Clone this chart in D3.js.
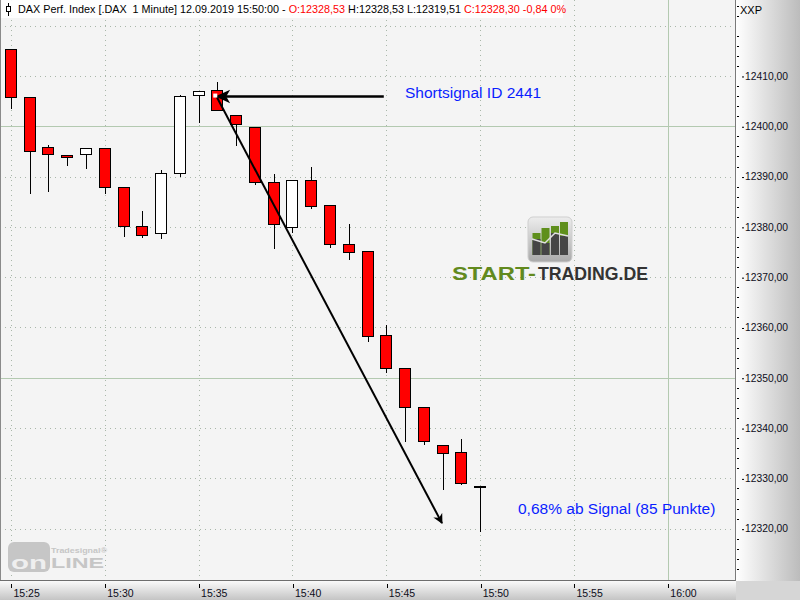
<!DOCTYPE html>
<html><head><meta charset="utf-8">
<script src="https://cdn.jsdelivr.net/npm/d3@7"></script>
<style>
body{margin:0;background:#fff;}
svg{display:block;font-family:"Liberation Sans",Arial,sans-serif;}
</style>
</head><body>
<svg id="c" width="800" height="600"></svg>
<script>
// ---- data ----
const times  = ["15:25","15:26","15:27","15:28","15:29","15:30","15:31","15:32","15:33","15:34","15:35","15:36","15:37","15:38","15:39","15:40","15:41","15:42","15:43","15:44","15:45","15:46","15:47","15:48","15:49","15:50"];
const opens  = [12415.3,12405.8,12395.8,12394.2,12394.4,12395.6,12387.9,12380.1,12378.7,12390.7,12406.2,12407.2,12402.2,12399.8,12388.9,12380.0,12389.3,12384.3,12376.5,12375.3,12358.6,12351.9,12344.1,12336.6,12335.2,12328.53];
const highs  = [12415.3,12405.8,12396.3,12394.2,12395.6,12395.6,12387.9,12383.2,12391.3,12406.2,12407.0,12408.8,12402.2,12399.8,12390.5,12389.3,12391.9,12384.3,12380.6,12375.3,12360.4,12351.9,12344.1,12336.6,12337.8,12328.53];
const lows   = [12403.7,12386.8,12387.2,12392.2,12391.8,12386.8,12378.1,12377.9,12377.7,12390.2,12400.9,12403.2,12396.3,12388.6,12375.7,12379.0,12383.8,12375.9,12373.6,12357.3,12351.1,12337.4,12336.8,12327.8,12328.8,12319.51];
const closes = [12405.8,12395.0,12394.4,12393.8,12395.6,12387.9,12380.1,12378.3,12390.7,12406.0,12407.0,12403.2,12400.4,12388.9,12380.5,12389.3,12384.1,12376.5,12375.1,12358.4,12351.9,12344.1,12337.4,12335.0,12329.0,12328.30];
const priceTicks = [12320,12330,12340,12350,12360,12370,12380,12390,12400,12410,12420];
const solidPrices = [12350,12400];
const timeTicks = ["15:25","15:30","15:35","15:40","15:45","15:50","15:55","16:00"];
const solidTimes = ["16:00"];
const headerParts = [
  {t:"DAX Perf. Index [.DAX  1 Minute] 12.09.2019 15:50:00 - ", c:"#000"},
  {t:"O:12328,53", c:"#ff0000"},
  {t:" H:12328,53 L:12319,51 ", c:"#000"},
  {t:"C:12328,30 -0,84 0%", c:"#ff0000"}
];
// annotations (time, price)
const sigPoint  = {t:"15:35:50", p:12406.0};
const sigFrom   = {t:"15:44:52", p:12406.0};
const targetPt  = {t:"15:47:58", p:12321.1};
const sigLabel  = "Shortsignal ID 2441";
const resLabel  = "0,68% ab Signal (85 Punkte)";

// ---- layout ----
const W = 800, H = 600, plotR = 736, plotB = 581;
const pT = d3.timeParse("%H:%M"), pTs = d3.timeParse("%H:%M:%S");
const x = d3.scaleTime().domain([pTs("15:24:25"), pTs("16:03:38")]).range([0, plotR]);
const y = d3.scaleLinear().domain([12309.6, 12425.1]).range([plotB, 0]);
const fmt = v => d3.format(".2f")(v).replace(".", ",");

const svg = d3.select("#c");
const defs = svg.append("defs");
const gR = defs.append("linearGradient").attr("id","gr").attr("x1",0).attr("x2",1).attr("y1",0).attr("y2",0);
gR.append("stop").attr("offset","0%").attr("stop-color","#ffffff");
gR.append("stop").attr("offset","100%").attr("stop-color","#bcbcbc");
const gB = defs.append("linearGradient").attr("id","gb").attr("x1",0).attr("x2",0).attr("y1",0).attr("y2",1);
gB.append("stop").attr("offset","0%").attr("stop-color","#fafafa");
gB.append("stop").attr("offset","100%").attr("stop-color","#c4c4c4");
const gI = defs.append("linearGradient").attr("id","gi").attr("x1",0).attr("x2",0).attr("y1",0).attr("y2",1);
gI.append("stop").attr("offset","0%").attr("stop-color","#ededed");
gI.append("stop").attr("offset","100%").attr("stop-color","#a9a9a9");
defs.append("marker").attr("id","ah").attr("viewBox","0 0 10 10").attr("refX",9).attr("refY",5)
  .attr("markerWidth",5).attr("markerHeight",5).attr("orient","auto").attr("markerUnits","strokeWidth")
  .append("path").attr("d","M0,0 L10,5 L0,10 L3,5 Z").attr("fill","#000");

// backgrounds
svg.append("rect").attr("x",0).attr("y",0).attr("width",plotR).attr("height",plotB).attr("fill","#f4f4f4");
svg.append("rect").attr("x",plotR).attr("y",0).attr("width",W-plotR).attr("height",plotB).attr("fill","url(#gr)");
svg.append("rect").attr("x",0).attr("y",plotB).attr("width",plotR).attr("height",H-plotB).attr("fill","url(#gb)");
svg.append("rect").attr("x",plotR).attr("y",plotB).attr("width",W-plotR).attr("height",H-plotB).attr("fill","#d6d6d6");

// grid
const grid = svg.append("g");
priceTicks.forEach(v => {
  const yy = Math.round(y(v)) + 0.5, solid = solidPrices.includes(v);
  grid.append("line").attr("x1",0).attr("x2",plotR).attr("y1",yy).attr("y2",yy)
    .attr("stroke", solid ? "#b3c9b0" : "#a9b7a9").attr("stroke-width",1)
    .attr("stroke-dasharray", solid ? null : "1,4");
});
timeTicks.forEach(t => {
  const xx = Math.round(x(pT(t))) + 0.5, solid = solidTimes.includes(t);
  grid.append("line").attr("x1",xx).attr("x2",xx).attr("y1",0).attr("y2",plotB)
    .attr("stroke", solid ? "#b3c9b0" : "#a9b7a9").attr("stroke-width",1)
    .attr("stroke-dasharray", solid ? null : "1,4");
});

// Tradesignal online logo
const tl = svg.append("g");
tl.append("rect").attr("x",8).attr("y",542).attr("width",42).attr("height",30).attr("rx",6).attr("fill","#c6c6c6");
tl.append("text").attr("x",11).attr("y",569).attr("font-size",18).attr("font-weight","bold")
  .attr("fill","#efefef").attr("textLength",36).attr("lengthAdjust","spacingAndGlyphs").text("on");
tl.append("text").attr("x",51).attr("y",568).attr("font-size",15).attr("font-weight","bold")
  .attr("fill","#c6c6c6").attr("textLength",53).attr("lengthAdjust","spacingAndGlyphs").text("LINE");
tl.append("text").attr("x",51).attr("y",552.5).attr("font-size",7.5).attr("font-weight","bold")
  .attr("fill","#c6c6c6").attr("textLength",56).attr("lengthAdjust","spacingAndGlyphs").text("Tradesignal®");

// START-TRADING logo
const lg = svg.append("g");
lg.append("rect").attr("x",528).attr("y",217).attr("width",44).attr("height",45).attr("rx",5)
  .attr("fill","url(#gi)").attr("stroke","#cfcfcf");
const bars = [[532.5,233,239],[541.5,228,243],[551,226,233],[560,222,236]];
bars.forEach(b => {
  lg.append("rect").attr("x",b[0]).attr("y",b[1]).attr("width",8).attr("height",255-b[1]).attr("fill","#5f8f1c");
  lg.append("rect").attr("x",b[0]).attr("y",b[2]).attr("width",8).attr("height",255-b[2]).attr("fill","#454545");
});
lg.append("polyline").attr("points","532,239 545,243 555,233 568,236").attr("fill","none").attr("stroke","#e0e0e0").attr("stroke-width",1.5);
lg.append("text").attr("x",452).attr("y",280).attr("font-size",18).attr("font-weight","bold")
  .attr("fill","#628a1e").attr("textLength",84).attr("lengthAdjust","spacingAndGlyphs").text("START-");
lg.append("text").attr("x",538).attr("y",280).attr("font-size",18).attr("font-weight","bold")
  .attr("fill","#333333").attr("textLength",110).attr("lengthAdjust","spacingAndGlyphs").text("TRADING.DE");

// candles
const data = times.map((t,i) => ({t:pT(t), o:opens[i], h:highs[i], l:lows[i], c:closes[i]}));
const cg = svg.append("g");
data.forEach(d => {
  const cx = Math.round(x(d.t));
  cg.append("line").attr("x1",cx+0.5).attr("x2",cx+0.5)
    .attr("y1",Math.round(y(d.h))).attr("y2",Math.round(y(d.l))+1)
    .attr("stroke","#000").attr("stroke-width",1);
  const top = Math.round(y(Math.max(d.o,d.c))), bot = Math.round(y(Math.min(d.o,d.c)));
  cg.append("rect").attr("x",cx-5.5).attr("y",top+0.5).attr("width",11).attr("height",Math.max(1,bot-top))
    .attr("fill", d.c < d.o ? "#ff0000" : "#ffffff").attr("stroke","#000").attr("stroke-width",1);
});

// annotations
const ax0 = x(pTs(sigFrom.t)), ay = Math.round(y(sigFrom.p)) + 0.5;
const sx = x(pTs(sigPoint.t)), sy = y(sigPoint.p);
svg.append("line").attr("x1",ax0).attr("x2",sx+8).attr("y1",ay).attr("y2",ay).attr("stroke","#000").attr("stroke-width",2.5);
svg.append("path").attr("d",`M${sx+3},${ay} L${sx+14},${ay-5} L${sx+11},${ay} L${sx+14},${ay+5} Z`)
  .attr("fill","#000").attr("stroke","#000").attr("stroke-width",1.5);
const tx = x(pTs(targetPt.t)), ty = y(targetPt.p);
svg.append("line").attr("x1",sx+2).attr("y1",sy).attr("x2",tx).attr("y2",ty)
  .attr("stroke","#000").attr("stroke-width",2).attr("marker-end","url(#ah)");
svg.append("rect").attr("x",sx-1).attr("y",sy-2.5).attr("width",4).attr("height",4).attr("fill","#fff");

svg.append("text").attr("x",405).attr("y",98).attr("font-size",15.5).attr("fill","#0a1eff").text(sigLabel);
svg.append("text").attr("x",518).attr("y",514).attr("font-size",15.5).attr("fill","#0a1eff").text(resLabel);

// header
svg.append("rect").attr("x",0).attr("y",0).attr("width",563).attr("height",18).attr("fill","#ffffff").attr("opacity",0.9);
const hi = svg.append("g");
hi.append("line").attr("x1",8.5).attr("x2",8.5).attr("y1",3).attr("y2",16).attr("stroke","#000");
hi.append("rect").attr("x",6.5).attr("y",6.5).attr("width",4).attr("height",5).attr("fill","#fff").attr("stroke","#000");
const ht = svg.append("text").attr("x",18).attr("y",13).attr("font-size",10.8).style("white-space","pre");
headerParts.forEach(p => ht.append("tspan").attr("fill",p.c).text(p.t));

// borders
svg.append("line").attr("x1",0.5).attr("x2",0.5).attr("y1",0).attr("y2",plotB).attr("stroke","#8a8a8a");
svg.append("line").attr("x1",0).attr("x2",plotR).attr("y1",plotB-0.5).attr("y2",plotB-0.5).attr("stroke","#6e6e6e");
svg.append("line").attr("x1",plotR-0.5).attr("x2",plotR-0.5).attr("y1",0).attr("y2",plotB).attr("stroke","#7a7a7a");

// right axis
const yAxis = d3.axisRight(y).tickValues(priceTicks.filter(v => v < 12420)).tickFormat(fmt).tickSize(0).tickPadding(9);
const ya = svg.append("g").attr("transform",`translate(${plotR},0)`).call(yAxis);
ya.select(".domain").remove();
ya.selectAll(".tick text").attr("font-size",10.3).attr("fill","#0d0d1a").attr("font-family","Liberation Sans, Arial, sans-serif");
ya.selectAll(".tick").append("line").attr("x1",6).attr("x2",8).attr("y1",0.5).attr("y2",0.5).attr("stroke","#000");
const minor = d3.range(12310, 12426, 2).filter(v => v % 10 !== 0);
svg.append("g").selectAll("line").data(minor).join("line")
  .attr("x1",plotR+1).attr("x2",plotR+3).attr("y1",d => Math.round(y(d))+0.5).attr("y2",d => Math.round(y(d))+0.5)
  .attr("stroke","#000");
svg.append("text").attr("x",740).attr("y",14).attr("font-size",11).attr("fill","#000").text("XXP");

// bottom axis
const xAxis = d3.axisBottom(x).tickValues(timeTicks.map(pT)).tickFormat(d3.timeFormat("%H:%M")).tickSize(0).tickPadding(0);
const xa = svg.append("g").attr("transform",`translate(0,${plotB})`).call(xAxis);
xa.select(".domain").remove();
xa.selectAll(".tick").each(function(){
  const g = d3.select(this);
  const tr = g.attr("transform").match(/translate\(([-\d.]+)/);
  const off = Math.round(+tr[1]) + 0.5 - (+tr[1]);
  g.append("line").attr("x1",off).attr("x2",off).attr("y1",3).attr("y2",7).attr("stroke","#000");
});
xa.selectAll(".tick text").attr("text-anchor","start").attr("x",2).attr("y",16).attr("dy",0)
  .attr("font-size",10.5).attr("fill","#0d0d1a").attr("font-family","Liberation Sans, Arial, sans-serif");
</script>
</body></html>
